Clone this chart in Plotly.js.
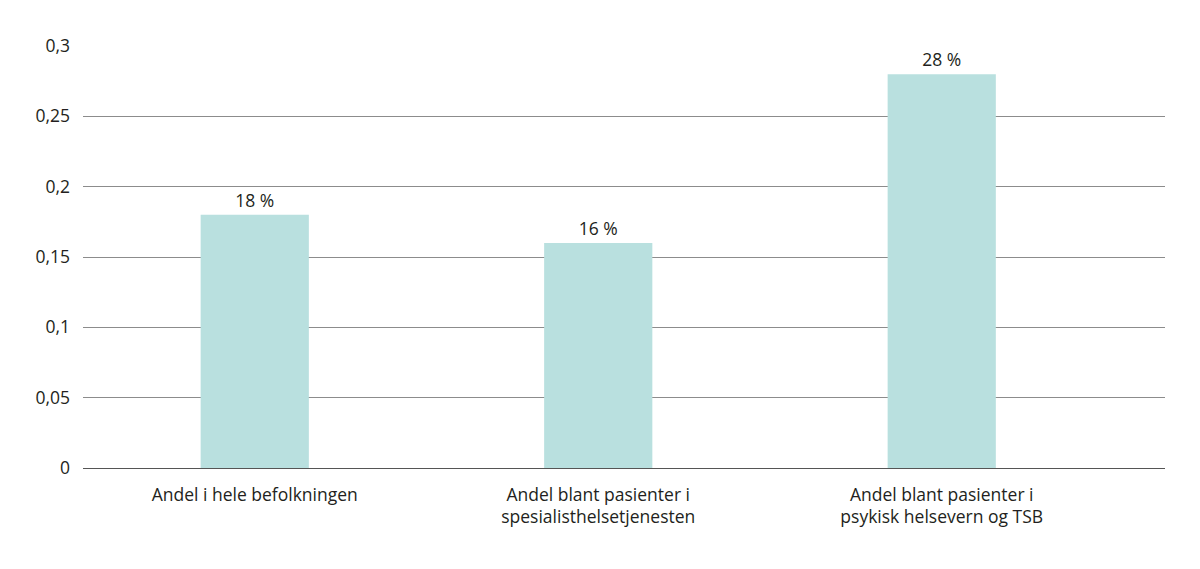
<!DOCTYPE html>
<html><head><meta charset="utf-8">
<script src="https://cdn.plot.ly/plotly-3.0.1.min.js"></script>
<style>html,body{margin:0;padding:0;background:#fff}#chart{width:1200px;height:569px}</style>
</head><body><div id="chart"></div>
<script>
const categories = ["Andel i hele befolkningen", "Andel blant pasienter i<br>spesialisthelsetjenesten", "Andel blant pasienter i<br>psykisk helsevern og TSB"];
const values = [0.18, 0.16, 0.28];
const labels = values.map(v => Math.round(v * 100) + " %");
const yTicks = [0, 0.05, 0.1, 0.15, 0.2, 0.25, 0.3];
const yTickText = ["0", "0,05", "0,1", "0,15", "0,2", "0,25", "0,3"];

const font = {family: "Open Sans, sans-serif", size: 17.5, color: "#231f20"};
const trace = {
  type: "bar",
  x: [0, 1, 2],
  y: values,
  width: 0.315,
  marker: {color: "#b9e0df"},
  text: labels,
  textposition: "outside",
  cliponaxis: false,
  textfont: font,
  hoverinfo: "skip"
};
const layout = {
  width: 1200, height: 569,
  margin: {l: 83, r: 35, t: 46, b: 101},
  paper_bgcolor: "#fff", plot_bgcolor: "#fff",
  showlegend: false,
  font: font,
  xaxis: {
    range: [-0.5, 2.65],
    tickmode: "array", tickvals: [0, 1, 2], ticktext: categories,
    showgrid: false, zeroline: false, showline: false, ticks: "",
    ticklabelstandoff: 14,
    tickfont: font, fixedrange: true
  },
  yaxis: {
    range: [0, 0.3],
    tickmode: "array", tickvals: yTicks, ticktext: yTickText,
    showgrid: true, gridcolor: "#8c8c8c", gridwidth: 1,
    zeroline: true, zerolinecolor: "#555", zerolinewidth: 1,
    ticks: "", ticklabelstandoff: 12,
    tickfont: font, fixedrange: true
  }
};
Plotly.newPlot("chart", [trace], layout, {displayModeBar: false, staticPlot: true});
</script></body></html>
